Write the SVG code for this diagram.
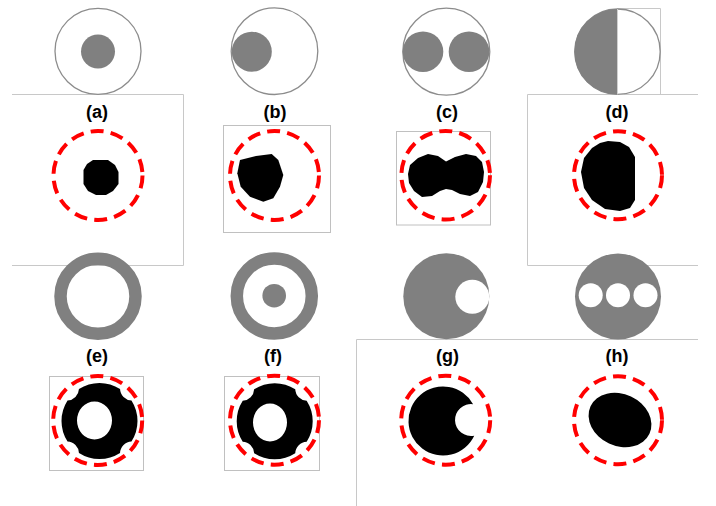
<svg xmlns="http://www.w3.org/2000/svg" width="716" height="506" viewBox="0 0 716 506">
<style>
.frame{fill:none;stroke:#c8c8c8;stroke-width:1}
.box{fill:none;stroke:#c0c0c0;stroke-width:1}
.outline{fill:#fff;stroke:#8c8c8c;stroke-width:1.3}
.gray{fill:#808080}
.blob{fill:#000}
.hole{fill:#fff}
.ring{fill:none;stroke:#808080;stroke-width:12.5}
.red{fill:none;stroke:#ff0000;stroke-width:4;stroke-dasharray:13 7.2}
.lbl{font-family:"Liberation Sans",Arial,sans-serif;font-weight:bold;font-size:18px;fill:#000;text-anchor:middle}
</style>
<rect width="716" height="506" fill="#fff"/>
<g id="frames">
<path class="frame" d="M12,94.5 H183.5 V265.5 H12"/>
<path class="frame" d="M698,94.5 H527.5 V265.5 H698"/>
<path class="frame" d="M617,8.5 H660.5 V94.5"/>
<path class="frame" d="M356.5,506 V339.5 H698"/>
</g>
<g id="panel-a">
<circle class="outline" cx="98" cy="51.3" r="43" stroke="#a0a0a0" stroke-width="1"/>
<circle class="gray" cx="98" cy="51.5" r="17"/>
<text class="lbl" x="97" y="118">(a)</text>
<polygon class="blob" points="93,160 108,160 115,165 118.5,172 118.5,184 113,191 106,195 96,195 88,191 83.5,184 83.5,170 87,164"/>
<circle class="red" cx="98" cy="175.5" r="44.5"/>
</g>
<g id="panel-b">
<circle class="outline" cx="274.5" cy="51.2" r="43.3"/>
<circle class="gray" cx="251.8" cy="51.7" r="20"/>
<text class="lbl" x="275" y="118">(b)</text>
<rect class="box" x="223.5" y="125.5" width="107" height="107"/>
<polygon class="blob" points="240,160 256,156 271.7,154 278.3,160 283.3,175 280,186.7 273.3,198.3 263.3,201.7 250,196.7 240.7,186.7 237.3,173.3"/>
<circle class="red" cx="274.5" cy="175.5" r="44.5"/>
</g>
<g id="panel-c">
<circle class="outline" cx="446.3" cy="51.7" r="43.5"/>
<circle class="gray" cx="423" cy="51.7" r="20.3"/>
<circle class="gray" cx="469" cy="51.7" r="20.3"/>
<text class="lbl" x="447" y="118">(c)</text>
<rect class="box" x="396.5" y="131.5" width="94" height="93.5"/>
<polygon class="blob" points="410,165 418,158 428,154 438,156 446,161.5 455,157 466,154 476,156 482,162 484,172 483,182 478,192 470,196 460,194 452,190 446,189 440,191 432,196 422,197 414,191 409,183 408,174"/>
<circle class="red" cx="445.7" cy="175.2" r="44.3"/>
</g>
<g id="panel-d">
<circle class="outline" cx="617.5" cy="51.7" r="42.7" stroke-width="1"/>
<path class="gray" d="M617,9 A42.7,42.7 0 0 0 617,94.4 Z"/>
<line x1="617.5" y1="9" x2="617.5" y2="94.4" stroke="#d0d0d0" stroke-width="1"/>
<text class="lbl" x="617" y="118">(d)</text>
<polygon class="blob" points="608,141 620,142 629,147 635,157 635,200 630,208 620,211 605,209 592,200 584,188 581,172 584,158 592,148 600,143"/>
<circle class="red" cx="618" cy="175.2" r="44"/>
</g>
<g id="panel-e">
<circle class="ring" cx="98" cy="296.3" r="37.5"/>
<text class="lbl" x="97" y="362">(e)</text>
<rect class="box" x="49.5" y="376.5" width="94" height="94"/>
<path class="blob" fill-rule="evenodd" d="M131.47,400.46 A38,38 0 0 1 131.47,441.54 A12,12 0 0 0 120.04,452.97 A38,38 0 0 1 78.96,452.97 A12,12 0 0 0 67.53,441.54 A38,38 0 0 1 67.53,400.46 A12,12 0 0 0 78.96,389.03 A38,38 0 0 1 120.04,389.03 A12,12 0 0 0 131.47,400.46 Z M112,420.5 A17.5,19 0 1 0 77,420.5 A17.5,19 0 1 0 112,420.5 Z"/>
<circle class="red" cx="97.7" cy="420.5" r="44.5"/>
</g>
<g id="panel-f">
<circle class="ring" cx="274.3" cy="296" r="37.5"/>
<circle class="gray" cx="274.2" cy="295.7" r="11.8"/>
<text class="lbl" x="273" y="362">(f)</text>
<rect class="box" x="224.5" y="376.5" width="95" height="94"/>
<path class="blob" fill-rule="evenodd" d="M306.67,400.76 A38,38 0 0 1 306.67,441.84 A12,12 0 0 0 295.24,453.27 A38,38 0 0 1 254.16,453.27 A12,12 0 0 0 242.73,441.84 A38,38 0 0 1 242.73,400.76 A12,12 0 0 0 254.16,389.33 A38,38 0 0 1 295.24,389.33 A12,12 0 0 0 306.67,400.76 Z M287,422.5 A17,19 0 1 0 253,422.5 A17,19 0 1 0 287,422.5 Z"/>
<circle class="red" cx="274.5" cy="420.2" r="44.5"/>
</g>
<g id="panel-g">
<circle class="gray" cx="446.3" cy="296.3" r="43"/>
<circle class="hole" cx="472.3" cy="296.7" r="17"/>
<text class="lbl" x="447.5" y="362">(g)</text>
<path class="blob" d="M473.1,404.13 A34.5,34.5 0 1 0 474.22,435.67 A16,16 0 1 1 473.1,404.13 Z"/>
<circle class="red" cx="445.7" cy="420.2" r="44.5"/>
</g>
<g id="panel-h">
<circle class="gray" cx="618" cy="296.5" r="43"/>
<circle class="hole" cx="590.7" cy="295.3" r="12"/>
<circle class="hole" cx="618" cy="295.3" r="12"/>
<circle class="hole" cx="645.5" cy="295.3" r="12"/>
<text class="lbl" x="617" y="362">(h)</text>
<ellipse class="blob" cx="620" cy="420" rx="32.5" ry="26" transform="rotate(25 620 420)"/>
<circle class="red" cx="618" cy="420.2" r="44"/>
</g>
</svg>
